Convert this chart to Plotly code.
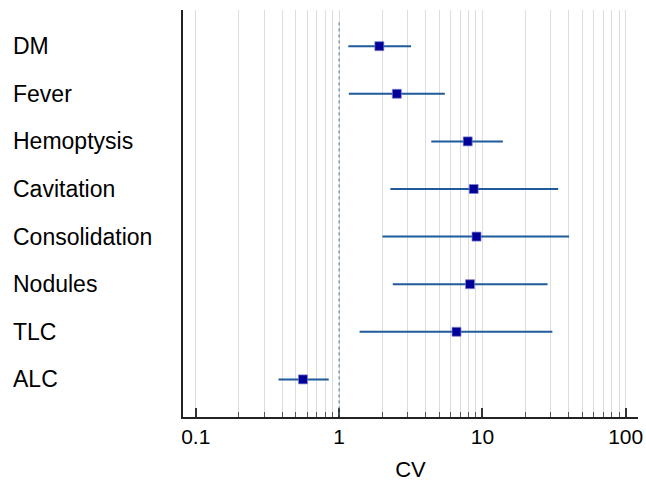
import plotly.graph_objects as go

categories = ["DM", "Fever", "Hemoptysis", "Cavitation", "Consolidation", "Nodules", "TLC", "ALC"]
estimate = [1.91, 2.53, 7.9, 8.7, 9.1, 8.2, 6.6, 0.56]
lower = [1.16, 1.17, 4.4, 2.28, 2.01, 2.37, 1.39, 0.378]
upper = [3.18, 5.47, 13.9, 33.8, 40.3, 28.5, 30.8, 0.847]
major_ticks = [0.1, 1, 10, 100]
major_labels = ["0.1", "1", "10", "100"]
minor_ticks = [0.2, 0.3, 0.4, 0.5, 0.6, 0.7, 0.8, 0.9,
               2, 3, 4, 5, 6, 7, 8, 9,
               20, 30, 40, 50, 60, 70, 80, 90]

ypos = list(range(len(categories)))
plus = [u - e for u, e in zip(upper, estimate)]
minus = [e - l for e, l in zip(estimate, lower)]

fig = go.Figure()
fig.add_trace(go.Scatter(
    x=estimate, y=ypos, mode="markers",
    marker=dict(symbol="square", size=9, color="#000099",
                line=dict(width=1, color="rgba(130,130,210,0.7)")),
    error_x=dict(type="data", symmetric=False, array=plus, arrayminus=minus,
                 width=0, thickness=2, color="#1f5a9a"),
    showlegend=False, hoverinfo="skip",
))

# reference line at 1
fig.add_shape(type="line", xref="x", yref="y", x0=1, x1=1, y0=-0.5, y1=7.78,
              line=dict(color="#4f7396", width=1, dash="dot"), layer="above")

for i, c in enumerate(categories):
    fig.add_annotation(text=c, xref="paper", yref="y", x=-172 / 455, y=i,
                       xanchor="left", yanchor="middle", showarrow=False,
                       font=dict(family="Liberation Sans, Arial", size=23, color="#000000"))

fig.update_layout(
    width=646, height=483,
    margin=dict(l=183, r=8, t=10, b=66),
    paper_bgcolor="white", plot_bgcolor="white",
    font=dict(family="Liberation Sans, Arial", color="#000000"),
    xaxis=dict(
        type="log", range=[-1.089, 2.086], automargin=False,
        tickvals=major_ticks, ticktext=major_labels,
        ticks="inside", ticklen=9, tickwidth=2, tickcolor="#333333",
        tickfont=dict(size=21, color="#000000"),
        showgrid=True, gridcolor="#dddddd", gridwidth=1,
        showline=True, linecolor="#222222", linewidth=2,
        zeroline=False,
        title=dict(text="CV", font=dict(size=22, color="#000000"), standoff=14),
        minor=dict(tickvals=minor_ticks, ticks="inside", ticklen=5, tickwidth=1,
                   tickcolor="#555555", showgrid=True, gridcolor="#dddddd", gridwidth=1),
    ),
    yaxis=dict(
        range=[7.79, -0.76], showticklabels=False, showgrid=False, zeroline=False,
        automargin=False,
        showline=True, linecolor="#222222", linewidth=2, ticks="",
    ),
)

fig.write_html("out.html", config={"displayModeBar": False},
               post_script="document.body.style.margin='0';")
